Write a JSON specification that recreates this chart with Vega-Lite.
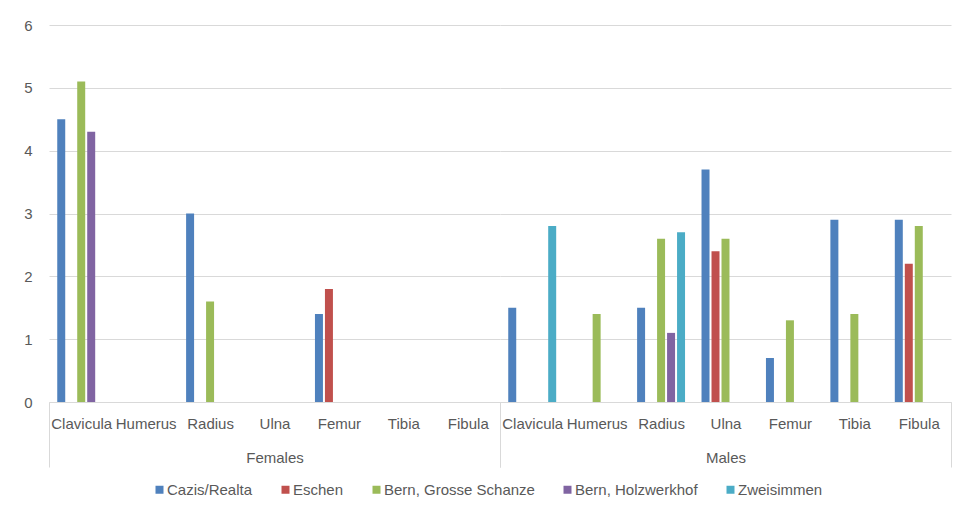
{
  "$schema": "https://vega.github.io/schema/vega-lite/v6.json",
  "background": "white",
  "padding": {"left": 23, "top": 18, "right": 10, "bottom": 5},
  "autosize": {"type": "pad"},
  "bounds": "flush",
  "spacing": 0,
  "data": {
    "values": [
      {"sex": "Females", "bone": "Clavicula", "series": "Cazis/Realta", "value": 4.5},
      {"sex": "Females", "bone": "Clavicula", "series": "Bern, Grosse Schanze", "value": 5.1},
      {"sex": "Females", "bone": "Clavicula", "series": "Bern, Holzwerkhof", "value": 4.3},
      {"sex": "Females", "bone": "Radius", "series": "Cazis/Realta", "value": 3.0},
      {"sex": "Females", "bone": "Radius", "series": "Bern, Grosse Schanze", "value": 1.6},
      {"sex": "Females", "bone": "Femur", "series": "Cazis/Realta", "value": 1.4},
      {"sex": "Females", "bone": "Femur", "series": "Eschen", "value": 1.8},
      {"sex": "Males", "bone": "Clavicula", "series": "Cazis/Realta", "value": 1.5},
      {"sex": "Males", "bone": "Clavicula", "series": "Zweisimmen", "value": 2.8},
      {"sex": "Males", "bone": "Humerus", "series": "Bern, Grosse Schanze", "value": 1.4},
      {"sex": "Males", "bone": "Radius", "series": "Cazis/Realta", "value": 1.5},
      {"sex": "Males", "bone": "Radius", "series": "Bern, Grosse Schanze", "value": 2.6},
      {"sex": "Males", "bone": "Radius", "series": "Bern, Holzwerkhof", "value": 1.1},
      {"sex": "Males", "bone": "Radius", "series": "Zweisimmen", "value": 2.7},
      {"sex": "Males", "bone": "Ulna", "series": "Cazis/Realta", "value": 3.7},
      {"sex": "Males", "bone": "Ulna", "series": "Eschen", "value": 2.4},
      {"sex": "Males", "bone": "Ulna", "series": "Bern, Grosse Schanze", "value": 2.6},
      {"sex": "Males", "bone": "Femur", "series": "Cazis/Realta", "value": 0.7},
      {"sex": "Males", "bone": "Femur", "series": "Bern, Grosse Schanze", "value": 1.3},
      {"sex": "Males", "bone": "Tibia", "series": "Cazis/Realta", "value": 2.9},
      {"sex": "Males", "bone": "Tibia", "series": "Bern, Grosse Schanze", "value": 1.4},
      {"sex": "Males", "bone": "Fibula", "series": "Cazis/Realta", "value": 2.9},
      {"sex": "Males", "bone": "Fibula", "series": "Eschen", "value": 2.2},
      {"sex": "Males", "bone": "Fibula", "series": "Bern, Grosse Schanze", "value": 2.8}
    ]
  },
  "hconcat": [
    {
      "width": 451,
      "height": 377,
      "transform": [{"filter": "datum.sex == 'Females'"}],
      "mark": {"type": "bar"},
      "encoding": {
        "x": {
          "field": "bone",
          "type": "nominal",
          "sort": ["Clavicula", "Humerus", "Radius", "Ulna", "Femur", "Tibia", "Fibula"],
          "scale": {"domain": ["Clavicula", "Humerus", "Radius", "Ulna", "Femur", "Tibia", "Fibula"], "paddingInner": 0, "paddingOuter": 0},
          "axis": {
            "title": "Females",
            "titleY": 55,
            "titleBaseline": "middle",
            "labelAngle": 0,
            "labelPadding": -51,
            "labelBaseline": "top",
            "tickBand": "extent",
            "tickSize": 65,
            "tickColor": "#d9d9d9",
            "tickOpacity": {"condition": {"test": "datum.extra || datum.index == 1 || datum.value == 'Fibula'", "value": 1}, "value": 0},
            "domainColor": "#d9d9d9"
          }
        },
        "xOffset": {
          "field": "series",
          "type": "nominal",
          "scale": {"domain": ["Cazis/Realta", "Eschen", "Bern, Grosse Schanze", "Bern, Holzwerkhof", "Zweisimmen"], "paddingInner": 0.2, "paddingOuter": 0.825}
        },
        "y": {
          "field": "value",
          "type": "quantitative",
          "scale": {"domain": [0, 6], "nice": false},
          "axis": {"title": null, "values": [0, 1, 2, 3, 4, 5, 6], "domain": false, "ticks": false, "labelPadding": 17, "grid": true}
        },
        "color": {
          "field": "series",
          "type": "nominal",
          "sort": ["Cazis/Realta", "Eschen", "Bern, Grosse Schanze", "Bern, Holzwerkhof", "Zweisimmen"],
          "scale": {
            "domain": ["Cazis/Realta", "Eschen", "Bern, Grosse Schanze", "Bern, Holzwerkhof", "Zweisimmen"],
            "range": ["#4f81bd", "#c0504d", "#9bbb59", "#8064a2", "#4bacc6"]
          },
          "legend": {
            "title": null,
            "orient": "none",
            "direction": "horizontal",
            "legendX": 103,
            "legendY": 457,
            "symbolType": "square",
            "symbolSize": 64,
            "symbolStrokeWidth": 0,
            "labelOffset": 0,
            "columnPadding": 25,
            "labelFontSize": 15,
            "labelColor": "#595959"
          }
        }
      }
    },
    {
      "width": 451,
      "height": 377,
      "transform": [{"filter": "datum.sex == 'Males'"}],
      "mark": {"type": "bar"},
      "encoding": {
        "x": {
          "field": "bone",
          "type": "nominal",
          "sort": ["Clavicula", "Humerus", "Radius", "Ulna", "Femur", "Tibia", "Fibula"],
          "scale": {"domain": ["Clavicula", "Humerus", "Radius", "Ulna", "Femur", "Tibia", "Fibula"], "paddingInner": 0, "paddingOuter": 0},
          "axis": {
            "title": "Males",
            "titleY": 55,
            "titleBaseline": "middle",
            "labelAngle": 0,
            "labelPadding": -51,
            "labelBaseline": "top",
            "tickBand": "extent",
            "tickSize": 65,
            "tickColor": "#d9d9d9",
            "tickOpacity": {"condition": {"test": "datum.extra || datum.index == 1 || datum.value == 'Fibula'", "value": 1}, "value": 0},
            "domainColor": "#d9d9d9"
          }
        },
        "xOffset": {
          "field": "series",
          "type": "nominal",
          "scale": {"domain": ["Cazis/Realta", "Eschen", "Bern, Grosse Schanze", "Bern, Holzwerkhof", "Zweisimmen"], "paddingInner": 0.2, "paddingOuter": 0.825}
        },
        "y": {
          "field": "value",
          "type": "quantitative",
          "scale": {"domain": [0, 6], "nice": false},
          "axis": {"title": null, "values": [0, 1, 2, 3, 4, 5, 6], "domain": false, "ticks": false, "labels": false, "grid": true}
        },
        "color": {
          "field": "series",
          "type": "nominal",
          "sort": ["Cazis/Realta", "Eschen", "Bern, Grosse Schanze", "Bern, Holzwerkhof", "Zweisimmen"],
          "scale": {
            "domain": ["Cazis/Realta", "Eschen", "Bern, Grosse Schanze", "Bern, Holzwerkhof", "Zweisimmen"],
            "range": ["#4f81bd", "#c0504d", "#9bbb59", "#8064a2", "#4bacc6"]
          }
        }
      }
    }
  ],
  "config": {
    "font": "Liberation Sans",
    "view": {"stroke": null},
    "axis": {
      "gridColor": "#d9d9d9",
      "gridWidth": 1,
      "labelFont": "Liberation Sans",
      "labelFontSize": 15,
      "labelColor": "#595959",
      "titleFont": "Liberation Sans",
      "titleFontSize": 15,
      "titleFontWeight": "normal",
      "titleColor": "#595959"
    },
    "legend": {"labelFont": "Liberation Sans"}
  }
}
